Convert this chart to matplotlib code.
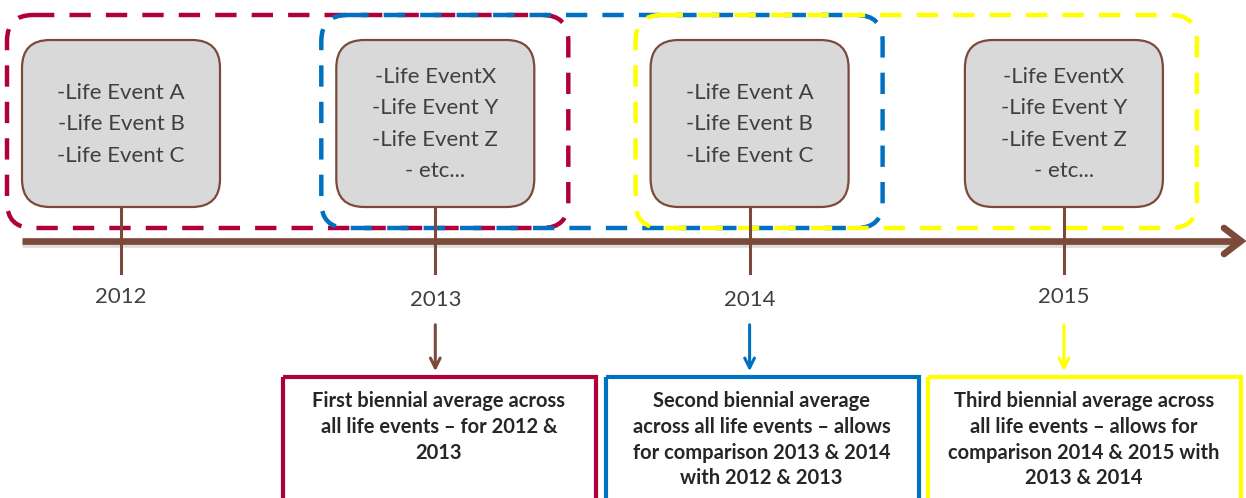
import matplotlib.pyplot as plt
from matplotlib.patches import FancyBboxPatch, Rectangle

# diagram content
years = [2012, 2013, 2014, 2015]
events = [
    ['-Life Event A', '-Life Event B', '-Life Event C'],
    ['-Life EventX', '-Life Event Y', '-Life Event Z', '- etc...'],
    ['-Life Event A', '-Life Event B', '-Life Event C'],
    ['-Life EventX', '-Life Event Y', '-Life Event Z', '- etc...'],
]
# each biennial period groups two consecutive years
periods = [(2012, 2013), (2013, 2014), (2014, 2015)]
captions = [
    'First biennial average across\nall life events \u2013 for 2012 &\n2013',
    'Second biennial average\nacross all life events \u2013 allows\nfor comparison 2013 & 2014\nwith 2012 & 2013',
    'Third biennial average across\nall life events \u2013 allows for\ncomparison 2014 & 2015 with\n2013 & 2014',
]
period_colors = ['#B0003A', '#0070C0', '#FFFF00']
arrow_colors = ['#7B4A3A', '#0070C0', '#FFFF00']

BROWN = '#7B4A3A'
GREY = '#D9D9D9'
TXT = '#404040'
FONT = ['Lato', 'DejaVu Sans']

W, H = 1246, 498
fig = plt.figure(figsize=(W / 100, H / 100), dpi=100)
ax = fig.add_axes([0, 0, 1, 1])
ax.set_xlim(0, W)
ax.set_ylim(H, 0)
ax.axis('off')


def year_x(year):
    return 121 + (year - years[0]) * 314.3


axis_y = 241

# dashed period outlines
for (y0, y1), col in zip(periods, period_colors):
    left = year_x(y0) - 114
    right = year_x(y1) + 133
    box = FancyBboxPatch((left, 15), right - left, 213,
                         boxstyle='round,pad=0,rounding_size=26',
                         fill=False, edgecolor=col, linewidth=3.2,
                         linestyle=(0, (4.8, 3.4)), zorder=2)
    ax.add_patch(box)

# timeline shadow + axis
ax.plot([22, 1236], [axis_y + 3, axis_y + 3], color='#bbbbbb', lw=4.8,
        alpha=0.5, solid_capstyle='butt', zorder=3)
ax.plot([22, 1238], [axis_y, axis_y], color=BROWN, lw=4.8,
        solid_capstyle='butt', zorder=4)
ax.plot([1224, 1241, 1224], [axis_y - 13, axis_y, axis_y + 13], color=BROWN,
        lw=4.8, solid_capstyle='round', solid_joinstyle='miter', zorder=4)

# year boxes, stems and labels
label_y = [297, 300, 300, 297]
for year, ev, ly in zip(years, events, label_y):
    x = year_x(year)
    ax.plot([x, x], [207, 273], color=BROWN, lw=2.2, zorder=5)
    box = FancyBboxPatch((x - 99, 40), 198, 167,
                         boxstyle='round,pad=0,rounding_size=28',
                         facecolor=GREY, edgecolor=BROWN, linewidth=1.6,
                         zorder=6)
    ax.add_patch(box)
    n = len(ev)
    for i, line in enumerate(ev):
        ax.text(x, 124 + (i - (n - 1) / 2) * 31.5, line, ha='center',
                va='center', fontsize=16, color=TXT, family=FONT,
                zorder=7)
    ax.text(x, ly, str(year), ha='center', va='center', fontsize=16,
            color=TXT, family=FONT, zorder=7)

# result boxes with arrows
for i, ((y0, y1), cap, col, acol) in enumerate(zip(periods, captions,
                                                   period_colors,
                                                   arrow_colors)):
    x = year_x(y1)
    ax.annotate('', xy=(x, 374), xytext=(x, 322),
                arrowprops=dict(arrowstyle='->,head_length=0.7,head_width=0.35',
                                color=acol, lw=2.2), zorder=5)
    left = 283 + i * 322.5
    ax.add_patch(Rectangle((left, 377), 313, 130, fill=False,
                           edgecolor=col, linewidth=3, zorder=5))
    ax.text(left + 156, 391, cap, ha='center', va='top', fontsize=14.5,
            fontweight='bold', color='#262626', family=FONT,
            linespacing=1.36, zorder=6)

fig.savefig('out.png', dpi=100)
